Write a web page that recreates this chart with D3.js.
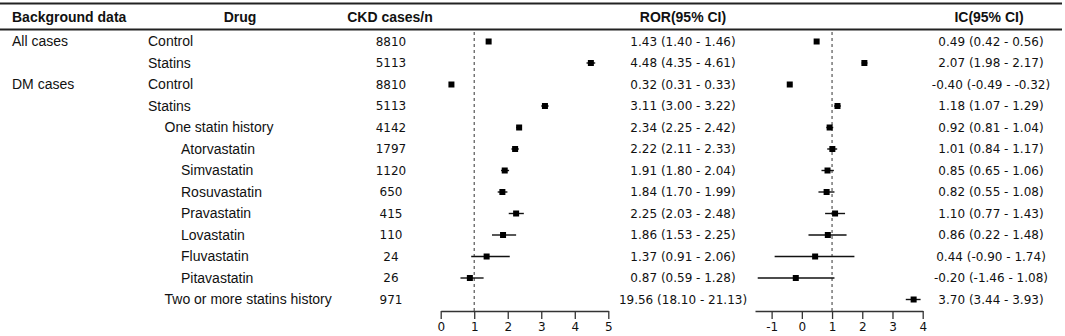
<!DOCTYPE html>
<html>
<head>
<meta charset="utf-8">
<script src="https://cdn.jsdelivr.net/npm/d3@7"></script>
<style>
  body { margin: 0; background: #fff; }
  svg { display: block; }
  .lab { font-family: "Liberation Sans", Arial, sans-serif; font-size: 14px; fill: #111; }
  .hdr { font-family: "Liberation Sans", Arial, sans-serif; font-size: 14px; font-weight: bold; fill: #111; }
  .num { font-family: "DejaVu Sans", Verdana, sans-serif; font-size: 12px; fill: #111; }
  .axis text { font-family: "DejaVu Sans", Verdana, sans-serif; font-size: 12px; fill: #111; }
  .axis path, .axis line { stroke: #333; stroke-width: 1.3; }
</style>
</head>
<body>
<script>
// table columns
const groups = ["All cases", "", "DM cases", "", "", "", "", "", "", "", "", "", ""];
const drugs = ["Control", "Statins", "Control", "Statins", "One statin history",
  "Atorvastatin", "Simvastatin", "Rosuvastatin", "Pravastatin", "Lovastatin",
  "Fluvastatin", "Pitavastatin", "Two or more statins history"];
const level = [0, 0, 0, 0, 1, 2, 2, 2, 2, 2, 2, 2, 1];
const cases = [8810, 5113, 8810, 5113, 4142, 1797, 1120, 650, 415, 110, 24, 26, 971];

// ROR and its 95% CI
const rorEst = [1.43, 4.48, 0.32, 3.11, 2.34, 2.22, 1.91, 1.84, 2.25, 1.86, 1.37, 0.87, 19.56];
const rorLo  = [1.40, 4.35, 0.31, 3.00, 2.25, 2.11, 1.80, 1.70, 2.03, 1.53, 0.91, 0.59, 18.10];
const rorHi  = [1.46, 4.61, 0.33, 3.22, 2.42, 2.33, 2.04, 1.99, 2.48, 2.25, 2.06, 1.28, 21.13];

// IC and its 95% CI
const icEst = [0.49, 2.07, -0.40, 1.18, 0.92, 1.01, 0.85, 0.82, 1.10, 0.86, 0.44, -0.20, 3.70];
const icLo  = [0.42, 1.98, -0.49, 1.07, 0.81, 0.84, 0.65, 0.55, 0.77, 0.22, -0.90, -1.46, 3.44];
const icHi  = [0.56, 2.17, -0.32, 1.29, 1.04, 1.17, 1.06, 1.08, 1.43, 1.48, 1.74, 1.08, 3.93];

const rorTicks = [0, 1, 2, 3, 4, 5];
const icTicks = [-1, 0, 1, 2, 3, 4];
const headers = ["Background data", "Drug", "CKD cases/n", "ROR(95% CI)", "IC(95% CI)"];

const width = 1065, height = 336;
const svg = d3.select("body").append("svg").attr("width", width).attr("height", height);

const n = drugs.length;
const y = d3.scaleLinear().domain([0, n - 1]).range([41.5, 299.5]);
const xRor = d3.scaleLinear().domain([0, 5]).range([440.7, 608.3]);
const xIc = d3.scaleLinear().domain([-1.55, 4]).range([755, 922.7]);
const axisY = 311;

const fmt = (e, lo, hi) => e.toFixed(2) + " (" + lo.toFixed(2) + " - " + hi.toFixed(2) + ")";

// rules
svg.append("line").attr("x1", 0).attr("x2", 1062).attr("y1", 3.5).attr("y2", 3.5)
  .attr("stroke", "#222").attr("stroke-width", 2.2);
svg.append("line").attr("x1", 0).attr("x2", 1062).attr("y1", 29.5).attr("y2", 29.5)
  .attr("stroke", "#222").attr("stroke-width", 2);

// headers
const hx = [12, 240, 390, 683, 989];
const ha = ["start", "middle", "middle", "middle", "middle"];
headers.forEach((h, i) => {
  svg.append("text").attr("class", "hdr").attr("x", hx[i]).attr("y", 17)
    .attr("dy", "0.35em").attr("text-anchor", ha[i]).text(h);
});

// rows
const rows = svg.append("g");
d3.range(n).forEach(i => {
  const yy = y(i);
  if (groups[i]) {
    rows.append("text").attr("class", "lab").attr("x", 12).attr("y", yy).attr("dy", "0.35em").text(groups[i]);
  }
  rows.append("text").attr("class", "lab").attr("x", 148 + level[i] * 16.5).attr("y", yy)
    .attr("dy", "0.35em").text(drugs[i]);
  rows.append("text").attr("class", "num").attr("x", 391).attr("y", yy).attr("dy", "0.36em")
    .attr("text-anchor", "middle").text(cases[i]);
  rows.append("text").attr("class", "num").attr("x", 683).attr("y", yy).attr("dy", "0.36em")
    .attr("text-anchor", "middle").text(fmt(rorEst[i], rorLo[i], rorHi[i]));
  rows.append("text").attr("class", "num").attr("x", 991).attr("y", yy).attr("dy", "0.36em")
    .attr("text-anchor", "middle").text(fmt(icEst[i], icLo[i], icHi[i]));
});

// reference lines at 1
svg.append("line").attr("x1", xRor(1)).attr("x2", xRor(1)).attr("y1", 32).attr("y2", axisY)
  .attr("stroke", "#555").attr("stroke-width", 1.2).attr("stroke-dasharray", "3,3");
svg.append("line").attr("x1", xIc(1)).attr("x2", xIc(1)).attr("y1", 32).attr("y2", axisY)
  .attr("stroke", "#555").attr("stroke-width", 1.2).attr("stroke-dasharray", "3,3");

// forest marks
function drawForest(x, est, lo, hi, maxV) {
  const g = svg.append("g");
  d3.range(n).forEach(i => {
    if (est[i] > maxV) return;
    g.append("line").attr("x1", x(lo[i])).attr("x2", x(hi[i]))
      .attr("y1", y(i)).attr("y2", y(i)).attr("stroke", "#111").attr("stroke-width", 1.4);
    g.append("rect").attr("x", x(est[i]) - 3).attr("y", y(i) - 3)
      .attr("width", 6).attr("height", 6).attr("fill", "#000");
  });
}
drawForest(xRor, rorEst, rorLo, rorHi, 5);
drawForest(xIc, icEst, icLo, icHi, 4);

// axes
svg.append("g").attr("class", "axis").attr("transform", "translate(0," + axisY + ")")
  .call(d3.axisBottom(xRor).tickValues(rorTicks).tickSize(8).tickSizeOuter(0).tickPadding(3).tickFormat(d3.format("d")));
svg.append("g").attr("class", "axis").attr("transform", "translate(0," + axisY + ")")
  .call(d3.axisBottom(xIc).tickValues(icTicks).tickSize(8).tickSizeOuter(0).tickPadding(3).tickFormat(d => d));
</script>
</body>
</html>
